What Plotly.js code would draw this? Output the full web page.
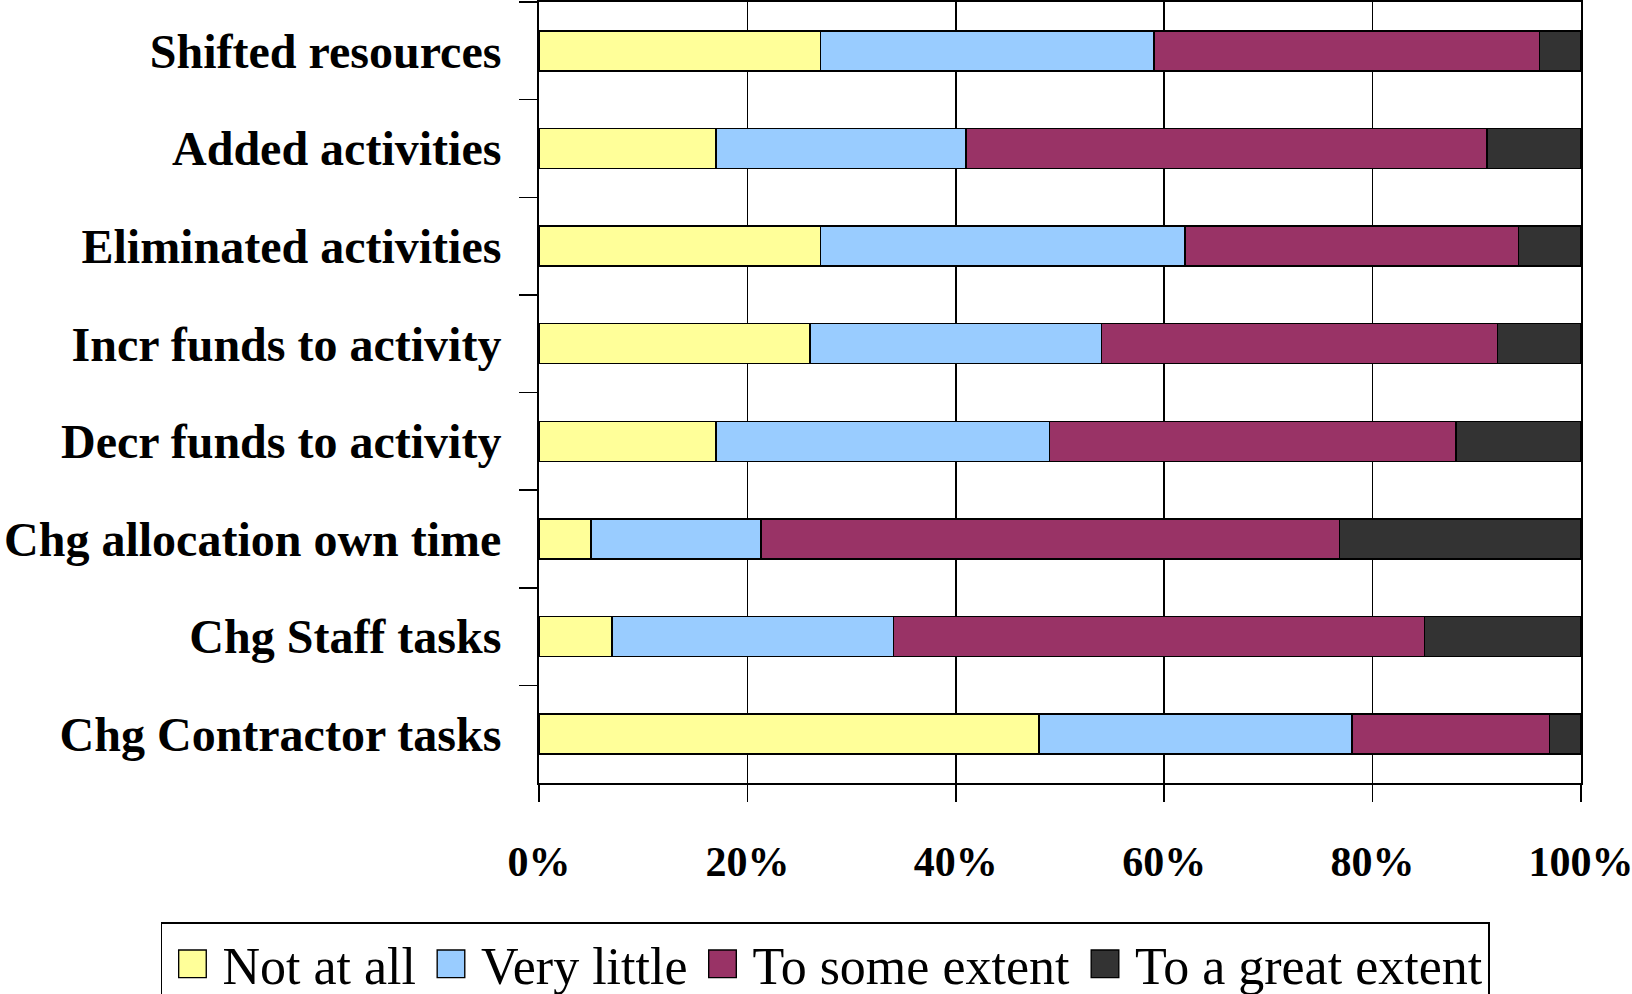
<!DOCTYPE html>
<html>
<head>
<meta charset="utf-8">
<script src="https://cdn.plot.ly/plotly-3.0.1.min.js"></script>
<style>html,body{margin:0;padding:0;background:#fff;}#chart{width:1632px;height:994px;}</style>
</head>
<body>
<div id="chart"></div>
<script>
const categories = ["Shifted resources","Added activities","Eliminated activities","Incr funds to activity","Decr funds to activity","Chg allocation own time","Chg Staff tasks","Chg Contractor tasks"];
const seriesNames = ["Not at all","Very little","To some extent","To a great extent"];
const notAtAll     = [27, 17, 27, 26, 17, 5,  7,  48];
const veryLittle   = [32, 24, 35, 28, 32, 16.3, 27, 30];
const toSomeExtent = [37, 50, 32, 38, 39, 55.5, 51, 19];
const toGreatExtent= [4,  9,  6,  8,  12, 23.2, 15, 3];
const xTickVals = [0, 20, 40, 60, 80, 100];
const xTickText = ["0%","20%","40%","60%","80%","100%"];
const colors = ["#FFFF99","#99CCFF","#993366","#333333"];

const seriesValues = [notAtAll, veryLittle, toSomeExtent, toGreatExtent];
const traces = seriesValues.map((vals, i) => ({
  type: "bar",
  orientation: "h",
  name: seriesNames[i],
  y: categories,
  x: vals,
  marker: {color: colors[i], line: {color: "#000", width: 1.5}},
  hoverinfo: "x+y+name"
}));

const layout = {
  width: 1632, height: 994,
  margin: {l: 539, r: 51, t: 2, b: 211, pad: 0, autoexpand: false},
  paper_bgcolor: "#fff", plot_bgcolor: "#fff",
  barmode: "stack",
  bargap: 0.59,
  font: {family: "Liberation Serif, Times New Roman, serif", color: "#000"},
  xaxis: {
    range: [0, 100], tickvals: xTickVals, ticktext: xTickText,
    showgrid: true, gridcolor: "#000", gridwidth: 1.5,
    showline: true, linecolor: "#000", linewidth: 2, mirror: true,
    ticks: "outside", ticklen: 17, tickwidth: 1.5, tickcolor: "#000",
    ticklabelstandoff: 24,
    ticklabeloverflow: "allow",
    tickfont: {family: "Liberation Serif", size: 42, weight: "bold", color: "#000"},
    zeroline: false, fixedrange: true, automargin: false
  },
  yaxis: {
    type: "category", categoryorder: "array", categoryarray: categories,
    autorange: "reversed",
    tickson: "boundaries",
    showgrid: false,
    showline: true, linecolor: "#000", linewidth: 2, mirror: true,
    ticks: "outside", ticklen: 18, tickwidth: 1.5, tickcolor: "#000",
    ticklabelstandoff: 26,
    tickfont: {family: "Liberation Serif", size: 48, weight: "bold", color: "#000"},
    fixedrange: true, automargin: false
  },
  showlegend: true,
  legend: {
    orientation: "h",
    x: -0.3628, xanchor: "left",
    y: -0.178, yanchor: "top",
    bgcolor: "#fff", bordercolor: "#000", borderwidth: 1.5,
    itemwidth: 50,
    font: {family: "Liberation Serif", size: 52, color: "#000"},
    traceorder: "normal"
  }
};

Plotly.newPlot("chart", traces, layout, {displayModeBar: false, staticPlot: true}).then(() => {
  document.querySelectorAll(".legendpoints path").forEach(p => {
    const t = p.getAttribute("transform") || "";
    p.setAttribute("transform", t + " scale(2.3)");
    p.style.strokeWidth = "0.6px";
  });
});
</script>
</body>
</html>
